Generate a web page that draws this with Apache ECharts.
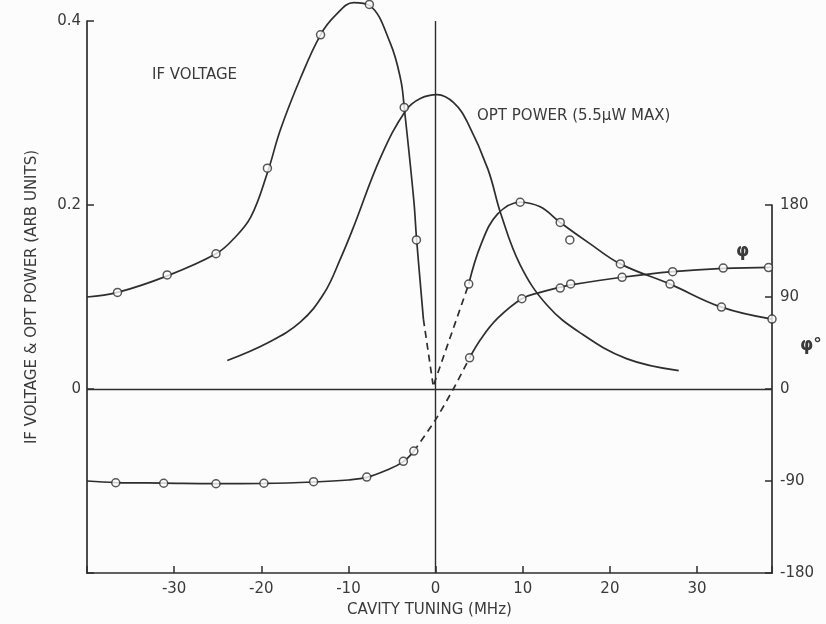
<!DOCTYPE html>
<html><head><meta charset="utf-8">
<script src="https://cdn.jsdelivr.net/npm/echarts@6/dist/echarts.min.js"></script>
<style>html,body{margin:0;padding:0;background:#fcfcfc}#c{width:826px;height:624px}</style>
</head><body><div id="c"></div><script>
// ---- tick labels ----
const xTickLabels = [-30, -20, -10, 0, 10, 20, 30];
const leftTickLabels = [0, 0.2, 0.4];
const rightTickLabels = [-180, -90, 0, 90, 180];

// ---- IF voltage: measured points (circles) ----
const ifPtX = [-36.5, -30.8, -25.2, -19.3, -13.2, -7.6, -3.6, -2.2, 3.8, 9.7, 14.3, 15.4, 21.2, 26.9, 32.8, 38.6];
const ifPtY = [0.105, 0.124, 0.147, 0.240, 0.385, 0.418, 0.306, 0.162, 0.114, 0.203, 0.181, 0.162, 0.136, 0.114, 0.089, 0.076];

// ---- IF voltage: drawn curve ----
const ifLeftX = [-40, -36.5, -30.8, -25.2, -23.2, -21.2, -19.3, -17.8, -15.5, -13.2, -11.5, -9.4, -7.6, -5.2, -4.0, -3.6, -2.5, -2.2, -1.4];
const ifLeftY = [0.100, 0.105, 0.123, 0.147, 0.163, 0.187, 0.235, 0.282, 0.338, 0.385, 0.406, 0.420, 0.417, 0.376, 0.336, 0.306, 0.205, 0.165, 0.076];
const ifDashLX = [-1.4, -0.3];
const ifDashLY = [0.076, 0.005];
const ifDashRX = [-0.2, 3.8];
const ifDashRY = [0.005, 0.114];
const ifRightX = [3.8, 5.2, 7.1, 9.7, 12.0, 14.3, 17.7, 21.2, 26.9, 32.8, 38.6];
const ifRightY = [0.114, 0.157, 0.190, 0.203, 0.198, 0.181, 0.158, 0.136, 0.114, 0.089, 0.076];

// ---- OPT power curve ----
const optX = [-23.9, -19.3, -15.5, -12.8, -10.9, -9.5, -6.3, -3.4, -1.7, 0.2, 2.1, 3.7, 6.0, 7.5, 9.7, 12.8, 16.6, 21.9, 27.9];
const optY = [0.031, 0.050, 0.073, 0.104, 0.142, 0.174, 0.252, 0.303, 0.316, 0.320, 0.311, 0.289, 0.239, 0.190, 0.135, 0.091, 0.061, 0.033, 0.020];

// ---- phase: measured points (degrees) ----
const phPtX = [-36.7, -31.2, -25.2, -19.7, -14.0, -7.9, -3.7, -2.5, 3.9, 9.9, 14.3, 15.5, 21.4, 27.2, 33.0, 38.2];
const phPtY = [-91.7, -92.2, -92.7, -92.2, -90.7, -86.2, -70.8, -60.7, 30.5, 88.3, 98.7, 102.8, 109.3, 114.8, 118.3, 118.8];

// ---- phase: drawn curve ----
const phLeftX = [-40, -36.7, -31.2, -25.2, -19.7, -14.0, -10.0, -7.9, -5.5, -3.7, -2.5];
const phLeftY = [-90, -91.5, -92.0, -92.5, -92.3, -91.0, -89.0, -86.5, -79.0, -71.0, -61.0];
const phDashX = [-2.5, 0, 2.1, 3.9];
const phDashY = [-61, -30, 1, 30.5];
const phRightX = [3.9, 5.2, 7.1, 9.9, 12.0, 14.3, 15.5, 21.4, 27.2, 33.0, 38.6];
const phRightY = [30.5, 49, 69, 88.3, 94.5, 99.5, 101.8, 109.3, 114.8, 118.0, 119.0];

const zip = (xs, ys) => xs.map((x, i) => [x, ys[i]]);
const INK = '#2e2e2e';
const TXT = '#3a3a3a';
const FONT = 'DejaVu Sans';
const XMIN = -40, XMAX = 38.6;

const curve = (name, xs, ys, opts) => Object.assign({
  name, type: 'line', data: zip(xs, ys), smooth: 0.4, showSymbol: false, clip: false,
  lineStyle: { color: INK, width: 1.7 }, silent: true, z: 3
}, opts || {});
const dashed = { type: [7, 5] };

const chart = echarts.init(document.getElementById('c'), null, { renderer: 'canvas' });
chart.setOption({
  animation: false,
  backgroundColor: '#fcfcfc',
  textStyle: { fontFamily: FONT },
  grid: [
    { left: 87, right: 54, top: 21, bottom: 51 },
    { left: 87, right: 54, top: 205, bottom: 51 }
  ],
  xAxis: [
    {
      gridIndex: 0, type: 'value', min: XMIN, max: XMAX, interval: 10,
      name: 'CAVITY TUNING (MHz)', nameLocation: 'middle', nameGap: 30,
      nameTextStyle: { color: TXT, fontSize: 15, fontFamily: FONT },
      axisLine: { show: true, onZero: false, lineStyle: { color: INK, width: 1.7 } },
      axisTick: { show: true, inside: true, length: 7, lineStyle: { color: INK, width: 1.5 } },
      axisLabel: { color: TXT, fontSize: 15, margin: 9, fontFamily: FONT,
        formatter: v => xTickLabels.includes(Math.round(v * 10) / 10) ? String(v) : '' },
      splitLine: { show: false }
    },
    {
      gridIndex: 1, type: 'value', min: XMIN, max: XMAX, show: false,
      axisLine: { onZero: false }
    }
  ],
  yAxis: [
    {
      gridIndex: 0, type: 'value', min: -0.2, max: 0.4, interval: 0.2, position: 'left',
      name: 'IF VOLTAGE & OPT POWER (ARB UNITS)', nameLocation: 'middle', nameGap: 47, nameRotate: 90,
      nameTextStyle: { color: TXT, fontSize: 15, fontFamily: FONT },
      axisLine: { show: true, onZero: false, lineStyle: { color: INK, width: 1.7 } },
      axisTick: { show: true, inside: true, length: 7, lineStyle: { color: INK, width: 1.5 } },
      axisLabel: { color: TXT, fontSize: 15, margin: 6, fontFamily: FONT,
        formatter: v => { const r = Math.round(v * 10) / 10; return leftTickLabels.includes(r) ? String(r) : ''; } },
      splitLine: { show: false }
    },
    {
      gridIndex: 1, type: 'value', min: -180, max: 180, interval: 90, position: 'right',
      axisLine: { show: true, onZero: false, lineStyle: { color: INK, width: 1.7 } },
      axisTick: { show: true, inside: true, length: 7, lineStyle: { color: INK, width: 1.5 } },
      axisLabel: { color: TXT, fontSize: 15, margin: 8, fontFamily: FONT,
        formatter: v => rightTickLabels.includes(v) ? String(v) : '' },
      splitLine: { show: false }
    }
  ],
  series: [
    curve('IF voltage', ifLeftX, ifLeftY, {
      markLine: {
        silent: true, symbol: 'none', label: { show: false },
        lineStyle: { color: INK, width: 1.4, type: 'solid' },
        data: [{ xAxis: 0 }, { yAxis: 0 }]
      }
    }),
    curve('IF voltage dashed L', ifDashLX, ifDashLY, { smooth: false, lineStyle: Object.assign({ color: INK, width: 1.7 }, dashed) }),
    curve('IF voltage dashed R', ifDashRX, ifDashRY, { smooth: false, lineStyle: Object.assign({ color: INK, width: 1.7 }, dashed) }),
    curve('IF voltage R', ifRightX, ifRightY),
    curve('OPT power', optX, optY),
    {
      name: 'IF points', type: 'scatter', data: zip(ifPtX, ifPtY), symbol: 'circle', symbolSize: 8, clip: false, z: 5,
      itemStyle: { color: '#fcfcfc', borderColor: INK, borderWidth: 1.5 }, silent: true
    },
    curve('phase L', phLeftX, phLeftY, { xAxisIndex: 1, yAxisIndex: 1 }),
    curve('phase dashed', phDashX, phDashY, { xAxisIndex: 1, yAxisIndex: 1, smooth: 0.2, lineStyle: Object.assign({ color: INK, width: 1.7 }, dashed) }),
    curve('phase R', phRightX, phRightY, { xAxisIndex: 1, yAxisIndex: 1 }),
    {
      name: 'phase points', type: 'scatter', xAxisIndex: 1, yAxisIndex: 1, data: zip(phPtX, phPtY),
      symbol: 'circle', symbolSize: 8, clip: false, z: 5,
      itemStyle: { color: '#fcfcfc', borderColor: INK, borderWidth: 1.5 }, silent: true
    }
  ],
  graphic: [
    { type: 'text', left: 152, top: 68, style: { text: 'IF VOLTAGE', fill: TXT, font: '15px "DejaVu Sans"' } },
    { type: 'text', left: 477, top: 109, style: { text: 'OPT POWER (5.5\u03bcW MAX)', fill: TXT, font: '15px "DejaVu Sans"' } },
    { type: 'text', left: 736, top: 243, style: { text: '\u03c6', fill: TXT, font: 'bold 17px "DejaVu Sans"' } },
    { type: 'text', left: 800, top: 337, style: { text: '\u03c6\u00b0', fill: TXT, font: 'bold 17px "DejaVu Sans"' } }
  ]
});
</script></body></html>
